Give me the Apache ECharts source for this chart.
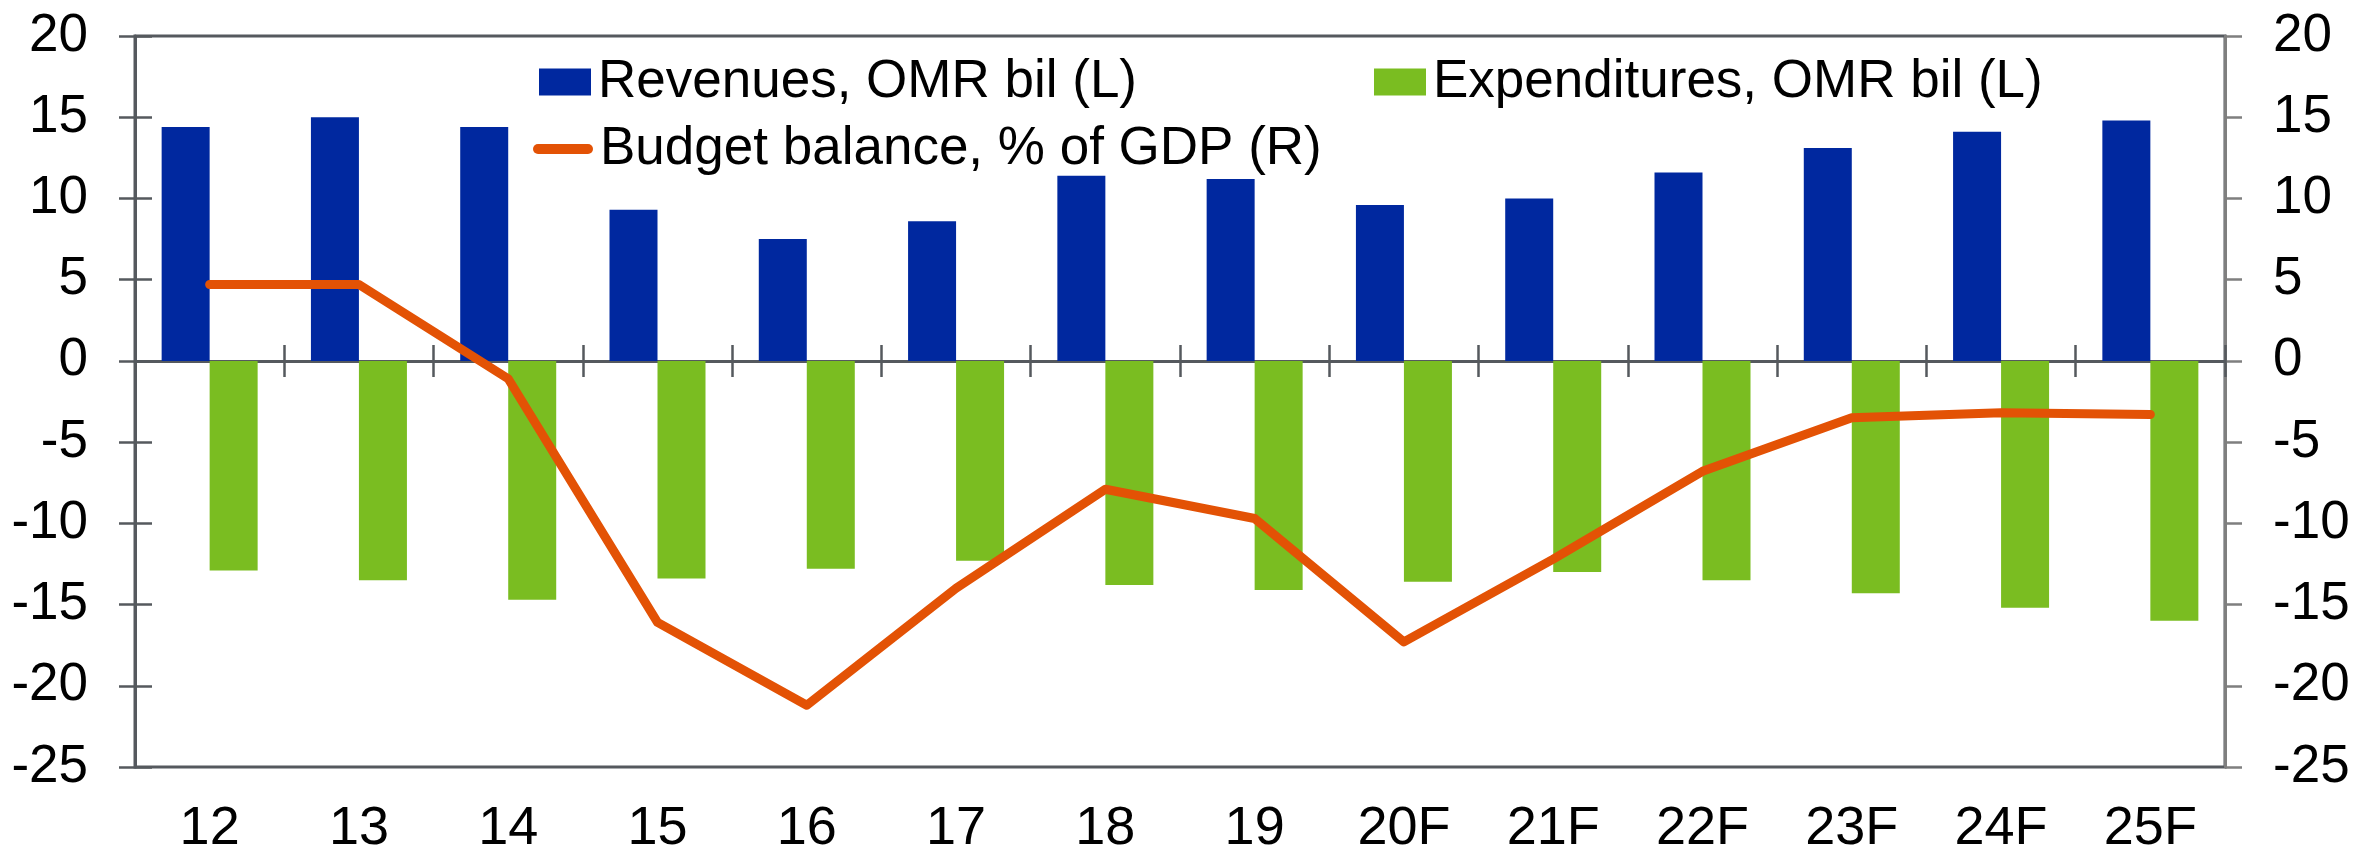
<!DOCTYPE html>
<html>
<head>
<meta charset="utf-8">
<script src="https://cdn.jsdelivr.net/npm/echarts@6/dist/echarts.min.js"></script>
<style>
  html, body { margin: 0; padding: 0; background: #fff; }
  #main { width: 2356px; height: 852px; }
</style>
</head>
<body>
<div id="main"></div>
<script>
var years = ['12', '13', '14', '15', '16', '17', '18', '19', '20F', '21F', '22F', '23F', '24F', '25F'];
var revenues = [14.4, 15.0, 14.4, 9.3, 7.5, 8.6, 11.4, 11.2, 9.6, 10.0, 11.6, 13.1, 14.1, 14.8];
var expenditures = [-12.9, -13.5, -14.7, -13.4, -12.8, -12.3, -13.8, -14.1, -13.6, -13.0, -13.5, -14.3, -15.2, -16.0];
var balance = [4.7, 4.7, -1.1, -16.1, -21.2, -14.0, -7.9, -9.7, -17.3, -12.2, -6.8, -3.5, -3.2, -3.3];

var names = ['Revenues, OMR bil (L)', 'Expenditures, OMR bil (L)', 'Budget balance, % of GDP (R)'];

var font = 'Liberation Sans, Arial, sans-serif';
var axisGrey = '#55595e';

var chart = echarts.init(document.getElementById('main'));

// legend text style shared by the three legend blocks
var legendText = { color: '#000', fontSize: 53, fontFamily: font, lineHeight: 60, padding: [0, 0, 0, 2] };

var option = {
    animation: false,
    grid: {
        left: 135, right: 131, top: 36, bottom: 85,
        show: true, borderColor: axisGrey, borderWidth: 3,
        outerBoundsMode: 'none'
    },
    legend: [{
        data: [{ name: names[0], icon: 'rect' }], left: 539, top: 52, padding: 0,
        itemWidth: 52, itemHeight: 27, textStyle: legendText, selectedMode: false
    }, {
        data: [{ name: names[1], icon: 'rect' }], left: 1374, top: 52, padding: 0,
        itemWidth: 52, itemHeight: 27, textStyle: legendText, selectedMode: false
    }, {
        data: [{ name: names[2], icon: 'path://M5,0 L55,0 A5,5 0 0 1 55,10 L5,10 A5,5 0 0 1 5,0 Z' }],
        left: 533, top: 119, padding: 0,
        itemWidth: 60, itemHeight: 10, textStyle: legendText, selectedMode: false
    }],
    xAxis: [{
        // labels along the bottom of the plot
        type: 'category',
        data: years,
        position: 'bottom',
        axisLine: { show: false, onZero: false },
        axisTick: { show: false },
        axisLabel: { margin: 35, color: '#000', fontSize: 54, fontFamily: font, lineHeight: 54, interval: 0 },
        splitLine: { show: false }
    }, {
        // zero line with ticks pointing down
        type: 'category',
        data: years,
        position: 'bottom',
        axisLine: { show: true, onZero: true, onZeroAxisIndex: 0, lineStyle: { color: axisGrey, width: 3 } },
        axisTick: { show: true, length: 16, lineStyle: { color: axisGrey, width: 2.5 } },
        axisLabel: { show: false },
        splitLine: { show: false }
    }, {
        // ticks pointing up from the zero line
        type: 'category',
        data: years,
        position: 'top',
        axisLine: { show: true, onZero: true, onZeroAxisIndex: 0, lineStyle: { opacity: 0 } },
        axisTick: { show: true, length: 16, lineStyle: { color: axisGrey, width: 2.5 } },
        axisLabel: { show: false },
        splitLine: { show: false }
    }],
    yAxis: [{
        type: 'value', position: 'left',
        min: -25, max: 20, interval: 5,
        axisLine: { show: true, lineStyle: { color: axisGrey, width: 3 } },
        axisTick: { show: true, length: 16, lineStyle: { color: axisGrey, width: 2.5 } },
        axisLabel: { margin: 47, color: '#000', fontSize: 53, fontFamily: font },
        splitLine: { show: false }
    }, {
        type: 'value', position: 'right',
        min: -25, max: 20, interval: 5,
        axisLine: { show: true, lineStyle: { color: '#7f7f7f', width: 3 } },
        axisTick: { show: true, length: 17, lineStyle: { color: '#7f7f7f', width: 2.5 } },
        axisLabel: { margin: 48, color: '#000', fontSize: 53, fontFamily: font },
        splitLine: { show: false }
    }, {
        // inner half of the left ticks
        type: 'value', position: 'left',
        min: -25, max: 20, interval: 5,
        axisLine: { show: false },
        axisTick: { show: true, inside: true, length: 17, lineStyle: { color: axisGrey, width: 2.5 } },
        axisLabel: { show: false },
        splitLine: { show: false }
    }],
    series: [{
        name: names[0],
        type: 'bar',
        data: revenues,
        barWidth: 48,
        barGap: '0%',
        itemStyle: { color: '#00289f' }
    }, {
        name: names[1],
        type: 'bar',
        data: expenditures,
        barWidth: 48,
        barGap: '0%',
        itemStyle: { color: '#7abd21' }
    }, {
        name: names[2],
        type: 'line',
        yAxisIndex: 1,
        data: balance,
        symbol: 'none',
        z: 5,
        itemStyle: { color: '#e35205' },
        lineStyle: { color: '#e35205', width: 9, cap: 'round', join: 'round' }
    }]
};

option && chart.setOption(option);
</script>
</body>
</html>
